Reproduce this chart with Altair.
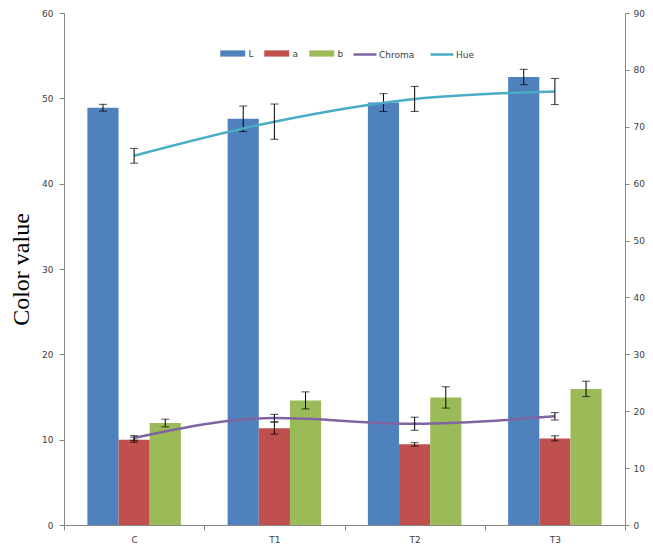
import altair as alt
import pandas as pd

groups = ["C", "T1", "T2", "T3"]
bar_series = ["L", "a", "b"]
line_series = ["Chroma", "Hue"]

L_vals = [48.9, 47.6, 49.5, 52.5]
L_err = [0.4, 1.5, 1.05, 0.9]
a_vals = [10.0, 11.35, 9.45, 10.15]
a_err = [0.3, 0.7, 0.2, 0.3]
b_vals = [11.95, 14.6, 14.95, 15.95]
b_err = [0.45, 1.0, 1.25, 0.9]
chroma_vals = [15.3, 18.8, 17.8, 19.1]
chroma_err = [0.4, 0.65, 1.15, 0.65]
hue_vals = [64.9, 70.9, 74.9, 76.2]
hue_err = [1.3, 3.1, 2.2, 2.3]

left_ticks = [0, 10, 20, 30, 40, 50, 60]
right_ticks = [0, 10, 20, 30, 40, 50, 60, 70, 80, 90]

bar_colors = ["#4F81BD", "#C0504D", "#9BBB59"]
line_colors = ["#8064A2", "#4BACC6"]

AX = "#868686"
LAB = "#404040"
FONT = "DejaVu Sans"


def build(series, vals_list, errs_list):
    rows = []
    for s, vals, errs in zip(series, vals_list, errs_list):
        for g, v, e in zip(groups, vals, errs):
            rows.append(dict(group=g, series=s, value=v, lo=v - e, hi=v + e))
    return pd.DataFrame(rows)


bar_df = build(bar_series, [L_vals, a_vals, b_vals], [L_err, a_err, b_err])
line_df = build(line_series, [chroma_vals, hue_vals], [chroma_err, hue_err])

xscale = alt.Scale(type="band", domain=groups, paddingInner=0, paddingOuter=0)
x_axis = alt.Axis(labelAngle=0, tickBand="extent", ticks=True, tickSize=5,
                  domainColor=AX, tickColor=AX, labelColor=LAB, labelFont=FONT,
                  labelFontSize=9, labelPadding=5, grid=False)
x_enc = alt.X("group:N", scale=xscale, axis=x_axis, title=None)
xoff = alt.XOffset("series:N", scale=alt.Scale(domain=bar_series, paddingInner=0, paddingOuter=0.75))

yl_scale = alt.Scale(domain=[0, 60], nice=False)
yl_axis = alt.Axis(values=left_ticks, grid=False, tickSize=5,
                   domainColor=AX, tickColor=AX, labelColor=LAB, labelFont=FONT,
                   labelFontSize=9, labelPadding=6, titleFont="Liberation Serif",
                   titleFontSize=24, titleFontWeight="normal", titleColor="black",
                   titlePadding=8)
yr_scale = alt.Scale(domain=[0, 90], nice=False)
yr_axis = alt.Axis(orient="right", values=right_ticks, grid=False, tickSize=4,
                   domainColor=AX, tickColor=AX, labelColor=LAB, labelFont=FONT,
                   labelFontSize=9, labelPadding=4)

bar_legend = alt.Legend(title=None, orient="none", legendX=156, legendY=33.75,
                        direction="horizontal", symbolType="M-1,-0.5H3V0.5H-1Z",
                        symbolSize=156, symbolStrokeWidth=0, labelOffset=15.5,
                        labelFont=FONT, labelFontSize=9, labelColor=LAB,
                        columnPadding=10, padding=0)
line_legend = alt.Legend(title=None, orient="none", legendX=288, legendY=28.5,
                         direction="horizontal", symbolType="stroke", symbolSize=529,
                         symbolStrokeWidth=2.5, labelOffset=1,
                         labelFont=FONT, labelFontSize=9, labelColor=LAB,
                         columnPadding=10, padding=0)


def yl(field):
    return alt.Y(f"{field}:Q", scale=yl_scale, axis=yl_axis, title="Color value")


def yr(field):
    return alt.Y(f"{field}:Q", scale=yr_scale, axis=yr_axis, title=None)


bars = alt.Chart(bar_df).mark_bar().encode(
    x=x_enc, xOffset=xoff, y=yl("value"),
    color=alt.Color("series:N", scale=alt.Scale(domain=bar_series, range=bar_colors),
                    legend=bar_legend),
)
bar_err = alt.Chart(bar_df).mark_rule(color="black", strokeWidth=1).encode(
    x=x_enc, xOffset=xoff, y=yl("lo"), y2="hi:Q",
)
bar_cap_lo = alt.Chart(bar_df).mark_tick(color="black", size=8, thickness=1, orient="horizontal").encode(
    x=x_enc, xOffset=xoff, y=yl("lo"),
)
bar_cap_hi = alt.Chart(bar_df).mark_tick(color="black", size=8, thickness=1, orient="horizontal").encode(
    x=x_enc, xOffset=xoff, y=yl("hi"),
)
left = alt.layer(bars, bar_err, bar_cap_lo, bar_cap_hi)

lines = alt.Chart(line_df).mark_line(strokeWidth=2.5, interpolate="monotone").encode(
    x=x_enc, y=yr("value"),
    stroke=alt.Stroke("series:N", scale=alt.Scale(domain=line_series, range=line_colors),
                      legend=line_legend),
)
line_err = alt.Chart(line_df).mark_rule(color="black", strokeWidth=1).encode(
    x=x_enc, y=yr("lo"), y2="hi:Q",
)
line_cap_lo = alt.Chart(line_df).mark_tick(color="black", size=8, thickness=1, orient="horizontal").encode(
    x=x_enc, y=yr("lo"),
)
line_cap_hi = alt.Chart(line_df).mark_tick(color="black", size=8, thickness=1, orient="horizontal").encode(
    x=x_enc, y=yr("hi"),
)
right = alt.layer(lines, line_err, line_cap_lo, line_cap_hi)

chart = alt.layer(left, right).resolve_scale(y="independent").properties(
    width=561, height=512, background="white",
    autosize=alt.AutoSizeParams(type="none"),
    padding={"left": 56, "top": 5, "right": 20, "bottom": 18},
).configure_view(stroke=None)

chart.save("out.html", embed_options={"renderer": "svg", "actions": False})
